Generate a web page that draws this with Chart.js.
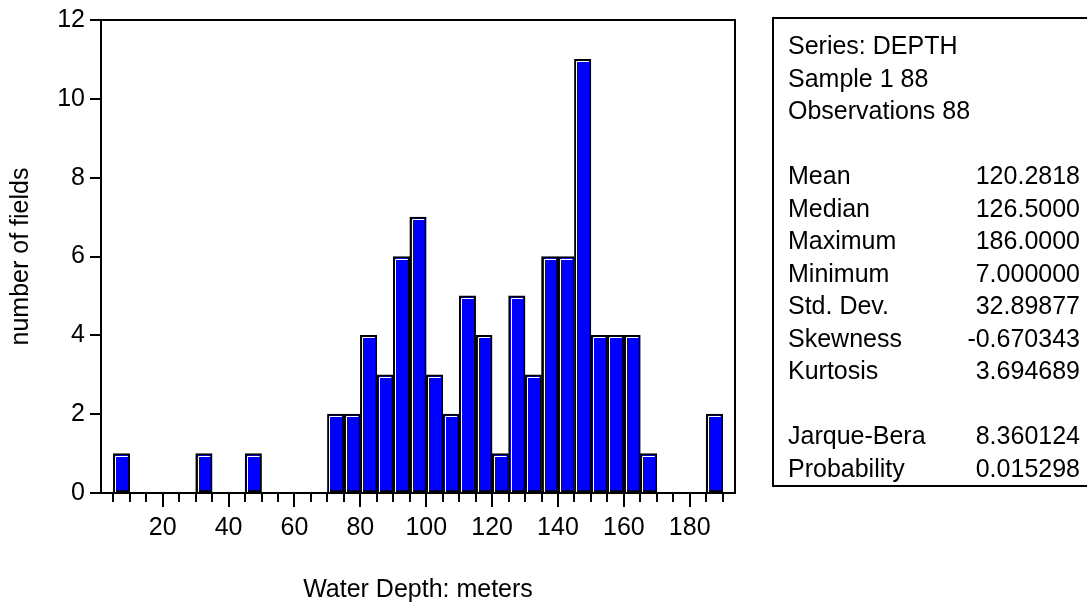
<!DOCTYPE html>
<html>
<head>
<meta charset="utf-8">
<script src="https://cdn.jsdelivr.net/npm/chart.js@4.4.1/dist/chart.umd.min.js"></script>
<style>
  body { margin: 0; background: #fff; }
  #wrap { position: relative; width: 1087px; height: 607px; overflow: hidden; }
  #stats {
    position: absolute; left: 772px; top: 17px; width: 330px; height: 470px;
    box-sizing: border-box; border: 2px solid #000; border-right: none;
    padding-top: 10px; font: 25px "Liberation Sans", Arial, sans-serif; color: #000;
  }
  .linha { height: 32.5px; line-height: 32.5px; width: 292px; padding-left: 14px;
    display: flex; justify-content: space-between; white-space: nowrap; }
</style>
</head>
<body>
<div id="wrap">
  <canvas id="grafico-profundidade" width="1087" height="607"></canvas>
  <div id="stats"></div>
</div>
<script>
// centro de cada classe (largura 5 m) e numero de campos em cada uma
const centrosClasses = [7.5, 12.5, 17.5, 22.5, 27.5, 32.5, 37.5, 42.5, 47.5, 52.5,
  57.5, 62.5, 67.5, 72.5, 77.5, 82.5, 87.5, 92.5, 97.5, 102.5,
  107.5, 112.5, 117.5, 122.5, 127.5, 132.5, 137.5, 142.5, 147.5, 152.5,
  157.5, 162.5, 167.5, 172.5, 177.5, 182.5, 187.5];
const contagens = [1, 0, 0, 0, 0, 1, 0, 0, 1, 0,
  0, 0, 0, 2, 2, 4, 3, 6, 7, 3,
  2, 5, 4, 1, 5, 3, 6, 6, 11, 4,
  4, 4, 1, 0, 0, 0, 2];
const ticksX = [20, 40, 60, 80, 100, 120, 140, 160, 180];
const ticksY = [0, 2, 4, 6, 8, 10, 12];

const cabecalho = ['Series: DEPTH', 'Sample 1 88', 'Observations 88'];
const estatNomes = ['Mean', 'Median', 'Maximum', 'Minimum', 'Std. Dev.', 'Skewness', 'Kurtosis'];
const estatValores = ['120.2818', '126.5000', '186.0000', '7.000000', '32.89877', '-0.670343', '3.694689'];
const testeNomes = ['Jarque-Bera', 'Probability'];
const testeValores = ['8.360124', '0.015298'];

// caixa de estatisticas
function montarEstatisticas() {
  const caixa = document.getElementById('stats');
  const linhas = [];
  cabecalho.forEach(t => linhas.push([t, '']));
  linhas.push(['', '']);
  estatNomes.forEach((n, i) => linhas.push([n, estatValores[i]]));
  linhas.push(['', '']);
  testeNomes.forEach((n, i) => linhas.push([n, testeValores[i]]));
  linhas.forEach(l => {
    const div = document.createElement('div');
    div.className = 'linha';
    const a = document.createElement('span');
    a.textContent = l[0];
    const b = document.createElement('span');
    b.textContent = l[1];
    div.appendChild(a);
    div.appendChild(b);
    caixa.appendChild(div);
  });
}
montarEstatisticas();

Chart.defaults.font.family = '"Liberation Sans", Arial, sans-serif';
Chart.defaults.font.size = 25;
Chart.defaults.color = '#000';

const molduraPlugin = {
  id: 'moldura',
  afterDatasetsDraw(chart) {
    const { ctx, chartArea: a } = chart;
    const escalaX = chart.scales.x;
    ctx.save();
    // filete branco dentro das barras (efeito relevo)
    ctx.strokeStyle = '#fff';
    ctx.lineWidth = 1;
    chart.getDatasetMeta(0).data.forEach((barra, i) => {
      if (!contagens[i]) return;
      const p = barra.getProps(['x', 'y', 'width', 'base'], true);
      const esq = Math.round(p.x - p.width / 2) + 2.5;
      const dir = p.x + p.width / 2 - 2;
      const cima = Math.round(p.y) + 2.5;
      ctx.beginPath();
      ctx.moveTo(esq, p.base);
      ctx.lineTo(esq, cima);
      ctx.lineTo(dir, cima);
      ctx.stroke();
    });
    // moldura do grafico
    ctx.strokeStyle = '#000';
    ctx.lineWidth = 2;
    ctx.strokeRect(a.left, a.top, a.right - a.left, a.bottom - a.top);
    // marcas do eixo x: maiores a cada 20, menores a cada 5
    for (let v = 5; v <= 190; v += 5) {
      const px = Math.round(escalaX.getPixelForValue(v));
      const comp = v % 20 === 0 ? 14 : 9;
      ctx.beginPath();
      ctx.moveTo(px, a.bottom);
      ctx.lineTo(px, a.bottom + comp);
      ctx.stroke();
    }
    ctx.restore();
  }
};

const pontos = centrosClasses.map((c, i) => ({ x: c, y: contagens[i] }));

const ctxProf = document.getElementById('grafico-profundidade').getContext('2d');
const graficoProf = new Chart(ctxProf, {
  type: 'bar',
  data: {
    datasets: [{
      data: pontos,
      backgroundColor: '#0000FF',
      borderColor: '#000',
      borderWidth: 2,
      borderSkipped: false,
      barPercentage: 1,
      categoryPercentage: 1
    }]
  },
  options: {
    responsive: false,
    animation: false,
    devicePixelRatio: 1,
    layout: { padding: { left: 0, top: 17, right: 352, bottom: 0 } },
    plugins: {
      legend: { display: false },
      tooltip: { enabled: false }
    },
    scales: {
      x: {
        type: 'linear',
        min: 1.25,
        max: 193.75,
        offset: false,
        afterBuildTicks: s => { s.ticks = ticksX.map(v => ({ value: v })); },
        afterFit: s => { s.height = 114; },
        grid: { display: false, drawTicks: false, offset: false },
        border: { display: false },
        ticks: { padding: 20, maxRotation: 0, autoSkip: false },
        title: {
          display: true,
          text: 'Water Depth: meters',
          padding: { top: 0, bottom: 2 }
        }
      },
      y: {
        min: 0,
        max: 12,
        afterBuildTicks: s => { s.ticks = ticksY.map(v => ({ value: v })); },
        afterFit: s => { s.width = 101; },
        grid: { drawOnChartArea: false, drawTicks: true, tickLength: 11, color: '#000', lineWidth: 2 },
        border: { display: false },
        ticks: { padding: 5 },
        title: {
          display: true,
          text: 'number of fields',
          padding: { top: 6, bottom: 0 }
        }
      }
    }
  },
  plugins: [molduraPlugin]
});
</script>
</body>
</html>
